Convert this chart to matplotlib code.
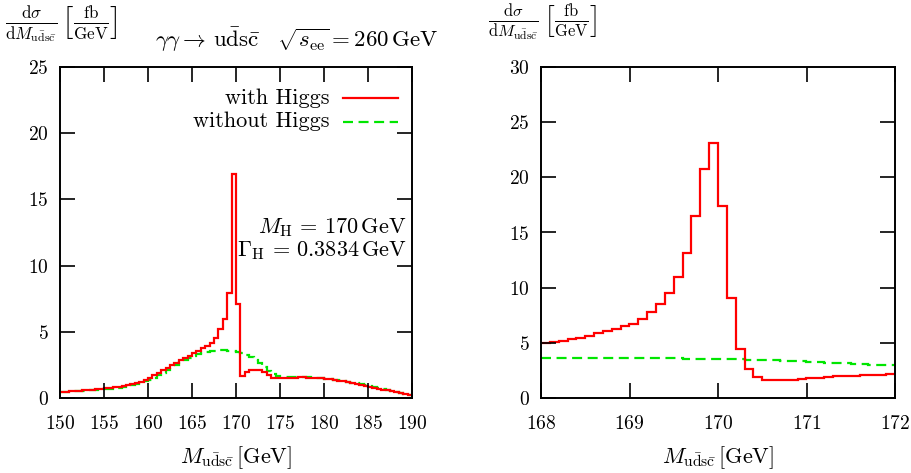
import numpy as np
import matplotlib
matplotlib.use("Agg")
import matplotlib.pyplot as plt

plt.rcParams['font.family'] = ['cmr10', 'DejaVu Serif']
plt.rcParams['mathtext.fontset'] = 'cm'
plt.rcParams['axes.formatter.use_mathtext'] = True

# ---------------- data ----------------
left_edges = np.arange(150.0, 190.01, 0.5)
left_with = [0.45, 0.48, 0.50, 0.53, 0.55, 0.58, 0.60, 0.63, 0.66, 0.69,
             0.72, 0.76, 0.80, 0.85, 0.90, 0.96, 1.03, 1.12, 1.23, 1.36,
             1.52, 1.70, 1.90, 2.10, 2.30, 2.50, 2.68, 2.85, 3.02, 3.20,
             3.38, 3.56, 3.75, 3.95, 4.18, 4.50, 5.20, 6.00, 7.95, 16.9,
             7.10, 1.68, 1.93, 2.10, 2.15, 2.10, 1.95, 1.75, 1.50, 1.48,
             1.50, 1.52, 1.53, 1.54, 1.55, 1.55, 1.54, 1.53, 1.51, 1.48,
             1.44, 1.40, 1.35, 1.30, 1.25, 1.19, 1.13, 1.07, 1.00, 0.93,
             0.85, 0.78, 0.71, 0.64, 0.58, 0.52, 0.46, 0.38, 0.30, 0.22]
left_without = [0.45, 0.47, 0.49, 0.51, 0.53, 0.55, 0.57, 0.59, 0.61, 0.63,
                0.66, 0.70, 0.74, 0.79, 0.84, 0.90, 0.97, 1.05, 1.14, 1.25,
                1.38, 1.53, 1.70, 1.90, 2.10, 2.30, 2.50, 2.70, 2.88, 3.05,
                3.20, 3.32, 3.42, 3.50, 3.55, 3.58, 3.60, 3.60, 3.58, 3.55,
                3.50, 3.38, 3.24, 3.08, 2.90, 2.65, 2.35, 2.05, 1.80, 1.67,
                1.62, 1.62, 1.62, 1.61, 1.60, 1.59, 1.57, 1.55, 1.52, 1.49,
                1.46, 1.42, 1.38, 1.33, 1.28, 1.22, 1.16, 1.10, 1.03, 0.96,
                0.90, 0.83, 0.76, 0.69, 0.62, 0.55, 0.48, 0.40, 0.32, 0.24]

right_edges = np.arange(168.0, 172.001, 0.1)
right_with = [5.00, 5.09, 5.18, 5.33, 5.45, 5.60, 5.85, 6.03, 6.27, 6.51,
              6.75, 7.18, 7.78, 8.54, 9.54, 10.99, 13.1, 16.5, 20.8, 23.1,
              17.4, 9.08, 4.46, 2.62, 1.90, 1.62, 1.60, 1.60, 1.63, 1.68,
              1.78, 1.85, 1.92, 1.97, 2.00, 2.03, 2.06, 2.09, 2.12, 2.17]
right_without = [3.60, 3.60, 3.61, 3.62, 3.62, 3.63, 3.63, 3.64, 3.64, 3.64,
                 3.63, 3.63, 3.62, 3.61, 3.60, 3.59, 3.58, 3.57, 3.56, 3.55,
                 3.53, 3.51, 3.49, 3.47, 3.45, 3.42, 3.40, 3.37, 3.34, 3.31,
                 3.28, 3.25, 3.21, 3.18, 3.14, 3.10, 3.07, 3.03, 3.00, 2.96]

left_xticks = [150, 155, 160, 165, 170, 175, 180, 185, 190]
left_yticks = [0, 5, 10, 15, 20, 25]
right_xticks = [168, 169, 170, 171, 172]
right_yticks = [0, 5, 10, 15, 20, 25, 30]

RED = '#ff0000'
GREEN = '#00e600'
DASH = (0, (4.5, 2.5))

fig = plt.figure(figsize=(9.11, 4.73), dpi=100)
W, H = 911, 473
axL = fig.add_axes([60 / W, (H - 398) / H, 352 / W, 331 / H])
axR = fig.add_axes([541 / W, (H - 398) / H, 354 / W, 331 / H])

xlab = r'$M_{\mathrm{u}\bar{\mathrm{d}}\mathrm{s}\bar{\mathrm{c}}}\,[\mathrm{GeV}]$'
for ax, edges, yw, yo, xt, yt in [
        (axL, left_edges, left_with, left_without, left_xticks, left_yticks),
        (axR, right_edges, right_with, right_without, right_xticks, right_yticks)]:
    ax.stairs(yo, edges, color=GREEN, lw=1.6, linestyle=DASH, baseline=None)
    ax.stairs(yw, edges, color=RED, lw=1.6, baseline=None)
    ax.set_xlim(xt[0], xt[-1])
    ax.set_ylim(yt[0], yt[-1])
    ax.set_xticks(xt)
    ax.set_yticks(yt)
    ax.tick_params(axis='x', direction='in', length=11, width=1.2, top=True,
                   labelsize=14, pad=12)
    ax.tick_params(axis='y', direction='in', length=11, width=1.2, right=True,
                   labelsize=14, pad=8)
    for s in ax.spines.values():
        s.set_linewidth(1.4)
    ax.set_xlabel(xlab, fontsize=16, labelpad=8)

ylab = (r'$\frac{\mathrm{d}\sigma}{\mathrm{d}M_{\mathrm{u}\bar{\mathrm{d}}\mathrm{s}\bar{\mathrm{c}}}}'
        r'\,\left[\frac{\mathrm{fb}}{\mathrm{GeV}}\right]$')
fig.text(5 / W, 1 - 25 / H, ylab, fontsize=17.5, ha='left', va='center')
fig.text(488 / W, 1 - 22 / H, ylab, fontsize=17, ha='left', va='center')
fig.text(297 / W, 1 - 40 / H,
         r'$\gamma\gamma\rightarrow\,\mathrm{u}\bar{\mathrm{d}}\mathrm{s}\bar{\mathrm{c}}\quad\sqrt{s_{\mathrm{ee}}}=260\,\mathrm{GeV}$',
         fontsize=16.5, ha='center', va='center')

# legend (gnuplot style)
axL.text(0.767, 0.905, 'with Higgs', transform=axL.transAxes, ha='right', va='center', fontsize=16)
axL.text(0.767, 0.835, 'without Higgs', transform=axL.transAxes, ha='right', va='center', fontsize=16)
axL.plot([0.805, 0.96], [0.905, 0.905], transform=axL.transAxes, color=RED, lw=1.6)
axL.plot([0.805, 0.96], [0.835, 0.835], transform=axL.transAxes, color=GREEN, lw=1.6,
         linestyle=DASH)

axL.text(0.985, 0.515, r'$M_{\mathrm{H}}\,=\,170\,\mathrm{GeV}$', transform=axL.transAxes,
         ha='right', va='center', fontsize=16)
axL.text(0.985, 0.445, r'$\Gamma_{\mathrm{H}}\,=\,0.3834\,\mathrm{GeV}$', transform=axL.transAxes,
         ha='right', va='center', fontsize=16)

fig.savefig('out.png', dpi=100)
